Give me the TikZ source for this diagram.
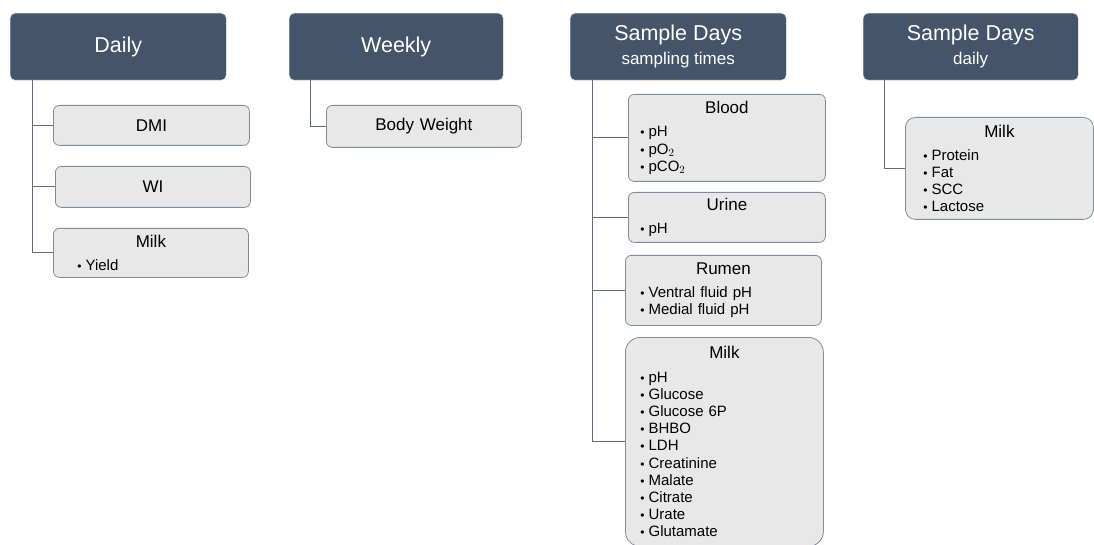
\documentclass[tikz,border=0pt]{standalone}
\usepackage{fontspec}
\setmainfont{Liberation Sans}
\definecolor{headblue}{RGB}{68,84,106}
\definecolor{boxgray}{RGB}{232,232,232}
\definecolor{boxedge}{RGB}{128,140,158}
\definecolor{linkgray}{RGB}{95,108,128}
\newcommand{\bul}{{\fontsize{12}{12}\selectfont\textbullet}\hspace{4pt}}
\newcommand{\ttl}[1]{\makebox[\linewidth]{\fontsize{17}{17}\selectfont #1}\\[6pt]}
\newcommand{\sub}[1]{{\fontsize{17}{18}\selectfont #1}}
\begin{document}
\begin{tikzpicture}[x=1pt, y=-1pt,
  head/.style={fill=headblue, draw=gray!30, rounded corners=5pt, text=white, minimum width=216pt, minimum height=67pt, anchor=north west, align=center, font=\fontsize{21.5}{25}\selectfont},
  leaf/.style={fill=boxgray, draw=boxedge, line width=0.8pt, rounded corners=6pt, anchor=north west, inner sep=0pt, font=\fontsize{15}{17.2}\selectfont},
  link/.style={draw=linkgray, line width=0.9pt}]

\useasboundingbox (0,0) rectangle (1094,545);

% headers
\node [head] (daily) at (10,13) {Daily};
\node [head, minimum width=214pt] (weekly) at (289,13) {Weekly};
\node [head] (samp) at (570,13) {Sample Days\\[-1pt]\sub{sampling times}};
\node [head, minimum width=215pt] (sampd) at (863,13) {Sample Days\\[-1pt]\sub{daily}};

% daily
\node [leaf, text width=196pt, minimum height=40pt, align=center, font=\fontsize{17}{18}\selectfont] (dmi) at (53,105) {DMI};
\node [leaf, text width=195pt, minimum height=41pt, align=center, font=\fontsize{17}{18}\selectfont] (wi) at (55,166) {WI};
\node [leaf, text width=195pt, minimum height=49pt, align=left] (milka) at (53,228) {\ttl{Milk}\hspace*{24pt}\bul Yield};

% weekly
\node [leaf, text width=195pt, minimum height=42pt, align=center, font=\fontsize{17}{18}\selectfont] (bw) at (326,105) {Body Weight};

% sample days, sampling times
\node [leaf, text width=197pt, minimum height=87pt, align=left] (blood) at (628,94) {\ttl{Blood}\hspace*{12pt}\bul pH\\\hspace*{12pt}\bul pO$_2$\\\hspace*{12pt}\bul pCO$_2$};
\node [leaf, text width=197pt, minimum height=50pt, align=left] (urine) at (628,192) {\ttl{Urine}\hspace*{12pt}\bul pH};
\node [leaf, text width=196pt, minimum height=70pt, align=left] (rumen) at (625,255) {\ttl{Rumen}\hspace*{15pt}\bul Ventral fluid pH\\\hspace*{15pt}\bul Medial fluid pH};
\node [leaf, text width=198pt, minimum height=209pt, rounded corners=15pt, align=left] (milkb) at (625,337) {\ttl{Milk}\hspace*{15pt}\bul pH\\\hspace*{15pt}\bul Glucose\\\hspace*{15pt}\bul Glucose 6P\\\hspace*{15pt}\bul BHBO\\\hspace*{15pt}\bul LDH\\\hspace*{15pt}\bul Creatinine\\\hspace*{15pt}\bul Malate\\\hspace*{15pt}\bul Citrate\\\hspace*{15pt}\bul Urate\\\hspace*{15pt}\bul Glutamate};

% sample days, daily
\node [leaf, text width=188pt, minimum height=102pt, rounded corners=10pt, align=left] (milkc) at (905,117) {\ttl{Milk}\hspace*{18pt}\bul Protein\\\hspace*{18pt}\bul Fat\\\hspace*{18pt}\bul SCC\\\hspace*{18pt}\bul Lactose};

% connectors
\draw [link] ([xshift=22pt]daily.south west) |- (dmi.west);
\draw [link] ([xshift=22pt]daily.south west) |- (wi.west);
\draw [link] ([xshift=22pt]daily.south west) |- (milka.west);
\draw [link] ([xshift=21pt]weekly.south west) |- (bw.west);
\draw [link] ([xshift=22pt]samp.south west) |- (blood.west);
\draw [link] ([xshift=22pt]samp.south west) |- (urine.west);
\draw [link] ([xshift=22pt]samp.south west) |- (rumen.west);
\draw [link] ([xshift=22pt]samp.south west) |- (milkb.west);
\draw [link] ([xshift=21pt]sampd.south west) |- (milkc.west);

\end{tikzpicture}
\end{document}
